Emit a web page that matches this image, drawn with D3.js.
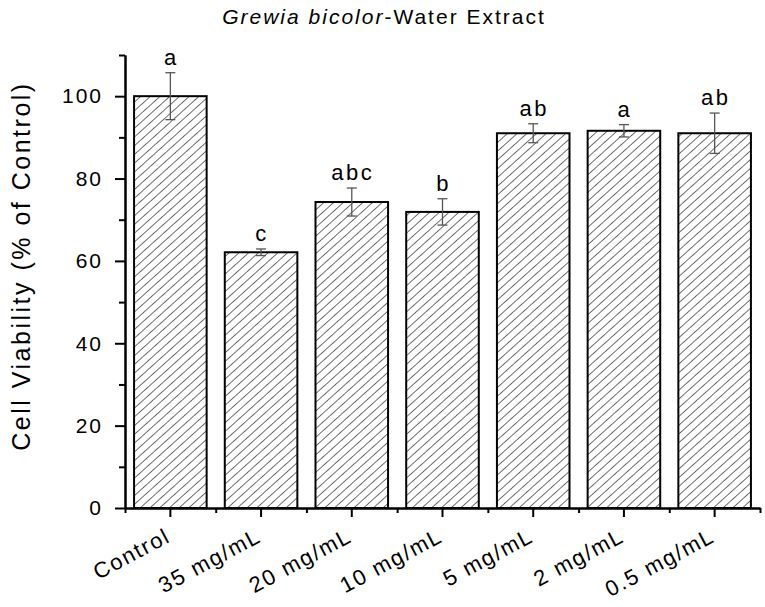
<!DOCTYPE html>
<html>
<head>
<meta charset="utf-8">
<script src="https://cdn.jsdelivr.net/npm/d3@7"></script>
<style>
  body { margin: 0; background: #fff; }
  text { font-family: "Liberation Sans", Arial, sans-serif; fill: #000; }
</style>
</head>
<body>
<div id="chart"></div>
<script>
/* chart data */
let categories = ["Control", "35 mg/mL", "20 mg/mL", "10 mg/mL", "5 mg/mL", "2 mg/mL", "0.5 mg/mL"];
let viability = [100, 62.1, 74.3, 71.9, 91.0, 91.6, 91.0];
let errors = [5.7, 0.8, 3.4, 3.2, 2.3, 1.5, 4.9];
let letters = ["a", "c", "abc", "b", "ab", "a", "ab"];
let majorTicks = [0, 20, 40, 60, 80, 100];
let minorTicks = [10, 30, 50, 70, 90, 110];

/* dimensions */
let width = 765;
let height = 607;
let margin = {top: 55, bottom: 99, left: 125, right: 5};

let svg = d3.select("#chart")
            .append("svg")
              .attr("width", width)
              .attr("height", height);

// hatch pattern for the bars
let defs = svg.append("defs");
let pattern = defs.append("pattern")
                  .attr("id", "hatch")
                  .attr("patternUnits", "userSpaceOnUse")
                  .attr("width", 6.5)
                  .attr("height", 6.5)
                  .attr("patternTransform", "rotate(-42)");
pattern.append("line")
         .attr("x1", 0).attr("y1", 3.25)
         .attr("x2", 6.5).attr("y2", 3.25)
         .attr("stroke", "#333")
         .attr("stroke-width", 0.7);

let xScale = d3.scaleBand()
               .domain(categories)
               .range([margin.left, width - margin.right])
               .paddingInner(0.2)
               .paddingOuter(0.1);

let xEdges = d3.scaleLinear()
               .domain([0, categories.length])
               .range([margin.left, width - margin.right]);

let yScale = d3.scaleLinear()
               .domain([0, 110])
               .range([height - margin.bottom, margin.top]);

// bars
svg.append("g")
   .selectAll("rect")
   .data(viability)
   .enter()
   .append("rect")
     .attr("x", (d, i) => xScale(categories[i]))
     .attr("y", d => yScale(d))
     .attr("width", xScale.bandwidth())
     .attr("height", d => yScale(0) - yScale(d))
     .attr("fill", "url(#hatch)")
     .attr("stroke", "#000")
     .attr("stroke-width", 2);

// error bars
let errG = svg.append("g")
              .attr("stroke", "#555")
              .attr("stroke-width", 1.3);
let cx = i => xScale(categories[i]) + xScale.bandwidth() / 2;
let capW = 5;

viability.forEach((v, i) => {
  let top = yScale(v + errors[i]);
  let bot = yScale(v - errors[i]);
  errG.append("line").attr("x1", cx(i)).attr("x2", cx(i)).attr("y1", top).attr("y2", bot);
  errG.append("line").attr("x1", cx(i) - capW).attr("x2", cx(i) + capW).attr("y1", top).attr("y2", top);
  errG.append("line").attr("x1", cx(i) - capW).attr("x2", cx(i) + capW).attr("y1", bot).attr("y2", bot);
});

// significance letters
svg.append("g")
   .selectAll("text")
   .data(letters)
   .enter()
   .append("text")
     .attr("x", (d, i) => cx(i) + 1)
     .attr("y", (d, i) => yScale(viability[i] + errors[i]) - 8)
     .attr("text-anchor", "middle")
     .attr("font-size", 22)
     .attr("letter-spacing", 2.5)
     .text(d => d);

// y axis
let yAxis = svg.append("g")
               .attr("transform", `translate(${margin.left}, 0)`)
               .call(d3.axisLeft(yScale).tickValues(majorTicks).tickSize(10).tickSizeOuter(0).tickPadding(12));
let yMinor = svg.append("g")
                .attr("transform", `translate(${margin.left}, 0)`)
                .call(d3.axisLeft(yScale).tickValues(minorTicks).tickSize(6).tickSizeOuter(0).tickFormat(""));

// x axis
let xAxis = svg.append("g")
               .attr("transform", `translate(0, ${yScale(0)})`)
               .call(d3.axisBottom(xScale).tickSize(9).tickSizeOuter(0).tickFormat(""));
let xMinor = svg.append("g")
                .attr("transform", `translate(0, ${yScale(0)})`)
                .call(d3.axisBottom(xEdges).ticks(categories.length).tickSize(5).tickSizeOuter(0).tickFormat(""));

[yAxis, yMinor, xAxis, xMinor].forEach(g => {
  g.selectAll("path").attr("stroke", "#000").attr("stroke-width", 2);
  g.selectAll("line").attr("stroke", "#000").attr("stroke-width", 2);
});
yAxis.selectAll("text")
     .attr("font-size", 21)
     .attr("letter-spacing", 2)
     .attr("font-family", "Liberation Sans, Arial, sans-serif")
     .attr("fill", "#000");

// rotated x labels
svg.append("g")
   .selectAll("text")
   .data(categories)
   .enter()
   .append("text")
     .attr("transform", (d, i) => `translate(${cx(i) - 2}, ${yScale(0) + 26}) rotate(-28)`)
     .attr("text-anchor", "end")
     .attr("font-size", 22)
     .attr("letter-spacing", 1.8)
     .attr("dy", "0.35em")
     .text(d => d);

// y axis label
svg.append("text")
   .attr("transform", `translate(30, 266) rotate(-90)`)
   .attr("text-anchor", "middle")
   .attr("font-size", 25)
   .attr("letter-spacing", 2.5)
   .text("Cell Viability (% of Control)");

// title
let title = svg.append("text")
               .attr("x", 384)
               .attr("y", 24)
               .attr("text-anchor", "middle")
               .attr("font-size", 21)
               .attr("letter-spacing", 2);
title.append("tspan").attr("font-style", "italic").text("Grewia bicolor");
title.append("tspan").text("-Water Extract");
</script>
</body>
</html>
